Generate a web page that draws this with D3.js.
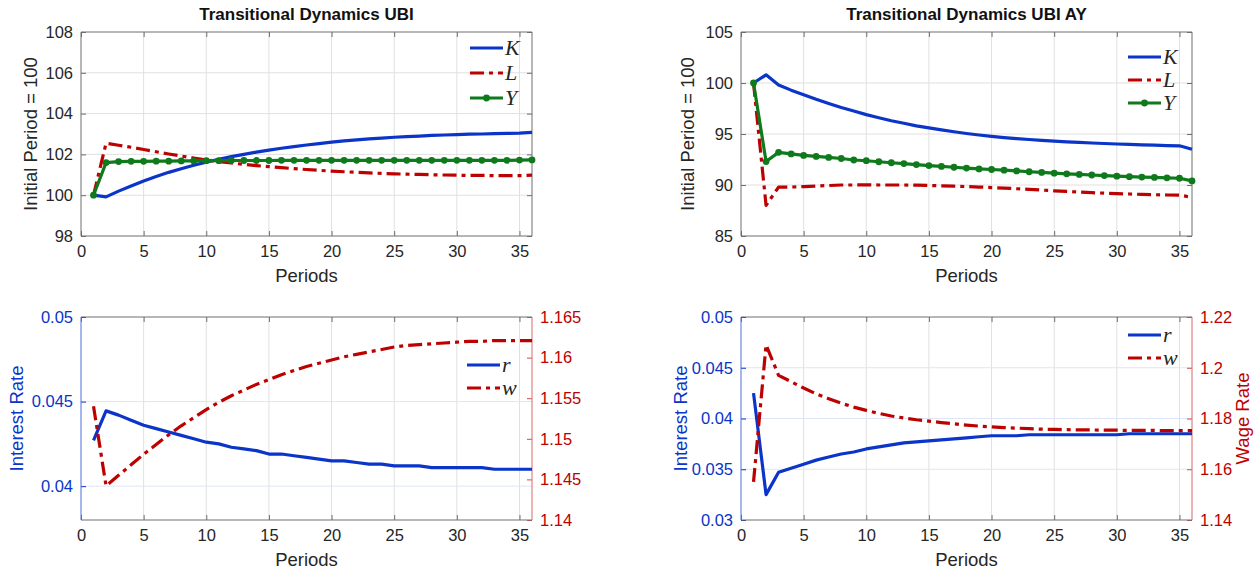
<!DOCTYPE html>
<html>
<head>
<meta charset="utf-8">
<script src="https://cdn.jsdelivr.net/npm/d3@7"></script>
<style>
  body { margin: 0; background: #fff; }
  svg { display: block; font-family: "Liberation Sans", Arial, Helvetica, sans-serif; }
</style>
</head>
<body>
<div id="chart"></div>
<script>
// periods on the x axis
const periods = [1,2,3,4,5,6,7,8,9,10,11,12,13,14,15,16,17,18,19,20,21,22,23,24,25,26,27,28,29,30,31,32,33,34,35,36];

// UBI: capital, labour, output (initial period = 100)
const ubiK = [100,99.92,100.2,100.45,100.7,100.92,101.12,101.3,101.47,101.62,101.76,101.89,102.0,102.11,102.21,102.3,102.38,102.46,102.53,102.6,102.66,102.71,102.76,102.8,102.84,102.87,102.9,102.93,102.95,102.97,102.99,103.0,103.02,103.03,103.04,103.08];
const ubiL = [100,102.55,102.45,102.35,102.24,102.13,102.02,101.92,101.82,101.73,101.65,101.58,101.51,101.45,101.4,101.35,101.3,101.26,101.22,101.18,101.15,101.12,101.09,101.07,101.05,101.03,101.02,101.0,100.99,100.98,100.97,100.97,100.96,100.96,100.96,100.98];
const ubiY = [100,101.6,101.65,101.66,101.66,101.67,101.67,101.68,101.68,101.69,101.69,101.7,101.7,101.7,101.7,101.71,101.71,101.71,101.71,101.71,101.71,101.71,101.71,101.71,101.71,101.71,101.71,101.71,101.71,101.71,101.71,101.71,101.71,101.71,101.72,101.73];

// UBI AY
const ayK = [100,100.8,99.8,99.3,98.85,98.4,98.0,97.6,97.25,96.9,96.6,96.3,96.05,95.8,95.6,95.4,95.22,95.05,94.9,94.77,94.65,94.55,94.46,94.38,94.3,94.23,94.17,94.12,94.07,94.02,93.98,93.94,93.9,93.87,93.84,93.5];
const ayL = [100,88.0,89.8,89.8,89.85,89.9,89.95,90.0,90.0,90.02,90.0,90.0,90.0,89.98,89.95,89.92,89.88,89.85,89.8,89.75,89.7,89.63,89.57,89.5,89.43,89.37,89.3,89.25,89.2,89.15,89.12,89.08,89.05,89.02,89.0,88.8];
const ayY = [100,92.3,93.2,93.05,92.9,92.8,92.7,92.6,92.45,92.38,92.28,92.18,92.1,92.0,91.9,91.82,91.74,91.66,91.58,91.52,91.45,91.38,91.3,91.23,91.16,91.1,91.04,90.98,90.92,90.87,90.82,90.78,90.74,90.7,90.66,90.4];

// prices: interest rate r and wage rate w
const ubiR = [0.0427,0.04445,0.0442,0.0439,0.0436,0.0434,0.0432,0.043,0.0428,0.0426,0.0425,0.0423,0.0422,0.0421,0.0419,0.0419,0.0418,0.0417,0.0416,0.0415,0.0415,0.0414,0.0413,0.0413,0.0412,0.0412,0.0412,0.0411,0.0411,0.0411,0.0411,0.0411,0.041,0.041,0.041,0.041];
const ubiW = [1.154,1.1442,1.1455,1.1468,1.1481,1.1493,1.1505,1.1516,1.1526,1.1536,1.1545,1.1553,1.156,1.1567,1.1573,1.1579,1.1584,1.1589,1.1593,1.1597,1.1601,1.1604,1.1607,1.161,1.1613,1.1615,1.1616,1.1617,1.1618,1.1619,1.162,1.162,1.1621,1.1621,1.1621,1.1621];
const ayR = [0.0425,0.0325,0.0347,0.0351,0.0355,0.0359,0.0362,0.0365,0.0367,0.037,0.0372,0.0374,0.0376,0.0377,0.0378,0.0379,0.038,0.0381,0.0382,0.0383,0.0383,0.0383,0.0384,0.0384,0.0384,0.0384,0.0384,0.0384,0.0384,0.0384,0.0385,0.0385,0.0385,0.0385,0.0385,0.0385];
const ayW = [1.155,1.209,1.197,1.1945,1.192,1.1897,1.1878,1.186,1.1845,1.1832,1.182,1.181,1.1802,1.1795,1.179,1.1784,1.1779,1.1774,1.177,1.1767,1.1764,1.1762,1.176,1.1758,1.1757,1.1756,1.1755,1.1755,1.1754,1.1754,1.1753,1.1753,1.1753,1.1752,1.1752,1.1752];

// tick values
const xTicks = [0,5,10,15,20,25,30,35];
const ubiTicks = [98,100,102,104,106,108];
const ayTicks = [85,90,95,100,105];
const ubiRTicks = [0.04,0.045,0.05];
const ubiWTicks = [1.14,1.145,1.15,1.155,1.16,1.165];
const ayRTicks = [0.03,0.035,0.04,0.045,0.05];
const ayWTicks = [1.14,1.16,1.18,1.2,1.22];

const BLUE = '#0a35c8', RED = '#bd0000', GREEN = '#0f7a1c';
const AXIS = '#6e6e6e', TEXT = '#262626';
const DASHDOT = '14,5,4,5';
const TICK_FONT = 16.5, LABEL_FONT = 18.5;

const svg = d3.select('#chart').append('svg')
  .attr('width', 1260)
  .attr('height', 573);

function drawPanel(p) {
  const {left, top, width, height} = p;
  const g = svg.append('g').attr('transform', `translate(${left},${top})`);

  const x = d3.scaleLinear().domain([0, 36]).range([0, width]);
  const y = d3.scaleLinear().domain(p.yDomain).range([height, 0]);
  const y2 = p.y2Domain ? d3.scaleLinear().domain(p.y2Domain).range([height, 0]) : null;

  // grid lines
  g.append('g').selectAll('line').data(xTicks.filter(d => d > 0))
    .join('line')
    .attr('x1', d => x(d)).attr('x2', d => x(d))
    .attr('y1', 0).attr('y2', height)
    .attr('stroke', '#e0e0e0').attr('stroke-width', 1);
  g.append('g').selectAll('line').data(p.yTicks.filter(d => d > p.yDomain[0] && d < p.yDomain[1]))
    .join('line')
    .attr('x1', 0).attr('x2', width)
    .attr('y1', d => y(d)).attr('y2', d => y(d))
    .attr('stroke', p.y2Domain ? '#dfe5f7' : '#e0e0e0').attr('stroke-width', 1);

  // axes
  const xAxis = d3.axisBottom(x).tickValues(xTicks).tickSize(-5).tickPadding(9).tickFormat(d3.format('d'));
  const gx = g.append('g').attr('transform', `translate(0,${height})`).call(xAxis);
  gx.select('.domain').remove();
  gx.selectAll('.tick line').attr('stroke', AXIS);
  gx.selectAll('.tick text').attr('fill', TEXT).attr('font-size', TICK_FONT);
  const gxTop = g.append('g').call(d3.axisTop(x).tickValues(xTicks).tickSize(-5).tickFormat(''));
  gxTop.select('.domain').remove();
  gxTop.selectAll('.tick line').attr('stroke', AXIS);

  const leftColor = p.y2Domain ? BLUE : TEXT;
  const gy = g.append('g').call(d3.axisLeft(y).tickValues(p.yTicks).tickSize(-5).tickPadding(8).tickFormat(p.yFormat));
  gy.select('.domain').remove();
  gy.selectAll('.tick line').attr('stroke', p.y2Domain ? BLUE : AXIS);
  gy.selectAll('.tick text').attr('fill', leftColor).attr('font-size', TICK_FONT);

  if (y2) {
    const gy2 = g.append('g').attr('transform', `translate(${width},0)`)
      .call(d3.axisRight(y2).tickValues(p.y2Ticks).tickSize(-5).tickPadding(8).tickFormat(p.y2Format));
    gy2.select('.domain').remove();
    gy2.selectAll('.tick line').attr('stroke', '#d04a4a');
    gy2.selectAll('.tick text').attr('fill', RED).attr('font-size', TICK_FONT);
  } else {
    const gyR = g.append('g').attr('transform', `translate(${width},0)`)
      .call(d3.axisRight(y).tickValues(p.yTicks).tickSize(-5).tickFormat(''));
    gyR.select('.domain').remove();
    gyR.selectAll('.tick line').attr('stroke', AXIS);
  }

  // box
  g.append('line').attr('x1', 0).attr('x2', width).attr('y1', 0).attr('y2', 0).attr('stroke', AXIS);
  g.append('line').attr('x1', 0).attr('x2', width).attr('y1', height).attr('y2', height).attr('stroke', AXIS);
  g.append('line').attr('x1', 0).attr('x2', 0).attr('y1', 0).attr('y2', height)
    .attr('stroke', p.y2Domain ? '#4a6fd8' : AXIS);
  g.append('line').attr('x1', width).attr('x2', width).attr('y1', 0).attr('y2', height)
    .attr('stroke', p.y2Domain ? '#d86a6a' : AXIS);

  // series
  const plot = g.append('g');
  p.series.forEach(s => {
    const sc = s.axis === 2 ? y2 : y;
    const line = d3.line().x((d, i) => x(periods[i])).y(d => sc(d));
    plot.append('path')
      .datum(s.values)
      .attr('d', line)
      .attr('fill', 'none')
      .attr('stroke', s.color)
      .attr('stroke-width', 3.2)
      .attr('stroke-linejoin', 'round')
      .attr('stroke-dasharray', s.dash || null);
    if (s.marker) {
      plot.append('g').selectAll('circle').data(s.values)
        .join('circle')
        .attr('cx', (d, i) => x(periods[i]))
        .attr('cy', d => sc(d))
        .attr('r', 3.4)
        .attr('fill', s.color);
    }
  });

  // legend
  const lg = g.append('g').attr('transform', `translate(${p.legend[0]},${p.legend[1]})`);
  p.series.forEach((s, i) => {
    const ly = i * p.legendStep;
    lg.append('line').attr('x1', 0).attr('x2', 33).attr('y1', ly).attr('y2', ly)
      .attr('stroke', s.color).attr('stroke-width', 3.2).attr('stroke-dasharray', s.dash || null);
    if (s.marker) {
      lg.append('circle').attr('cx', 16.5).attr('cy', ly).attr('r', 3.4).attr('fill', s.color);
    }
    lg.append('text').attr('x', 35).attr('y', ly + 7)
      .attr('font-family', '"Liberation Serif", "DejaVu Serif", serif')
      .attr('font-style', 'italic')
      .attr('font-size', 22)
      .attr('fill', TEXT)
      .text(s.name);
  });

  // labels
  if (p.title) {
    svg.append('text').attr('x', left + width / 2).attr('y', top - 12)
      .attr('text-anchor', 'middle').attr('font-weight', 'bold').attr('font-size', 17)
      .attr('fill', '#111').text(p.title);
  }
  svg.append('text').attr('x', left + width / 2).attr('y', top + height + 46)
    .attr('text-anchor', 'middle').attr('font-size', LABEL_FONT).attr('fill', TEXT).text('Periods');
  svg.append('text')
    .attr('transform', `translate(${left + p.yLabelDx},${top + height / 2}) rotate(-90)`)
    .attr('text-anchor', 'middle').attr('font-size', LABEL_FONT).attr('fill', leftColor).text(p.yLabel);
  if (p.y2Label) {
    svg.append('text')
      .attr('transform', `translate(${left + width + p.y2LabelDx},${top + height / 2}) rotate(-90)`)
      .attr('text-anchor', 'middle').attr('font-size', LABEL_FONT).attr('fill', RED).text(p.y2Label);
  }
}

drawPanel({
  left: 81, top: 32, width: 451, height: 204,
  title: 'Transitional Dynamics UBI',
  yDomain: [98, 108], yTicks: ubiTicks, yFormat: d3.format('d'),
  yLabel: 'Initial Period = 100', yLabelDx: -44,
  legend: [389, 16], legendStep: 25,
  series: [
    {name: 'K', values: ubiK, color: BLUE},
    {name: 'L', values: ubiL, color: RED, dash: DASHDOT},
    {name: 'Y', values: ubiY, color: GREEN, marker: true}
  ]
});

drawPanel({
  left: 741, top: 32, width: 451, height: 204,
  title: 'Transitional Dynamics UBI AY',
  yDomain: [85, 105], yTicks: ayTicks, yFormat: d3.format('d'),
  yLabel: 'Initial Period = 100', yLabelDx: -47,
  legend: [387, 25], legendStep: 23,
  series: [
    {name: 'K', values: ayK, color: BLUE},
    {name: 'L', values: ayL, color: RED, dash: DASHDOT},
    {name: 'Y', values: ayY, color: GREEN, marker: true}
  ]
});

drawPanel({
  left: 81, top: 317, width: 451, height: 203,
  yDomain: [0.038, 0.05], yTicks: ubiRTicks, yFormat: d => d3.format('')(+d.toFixed(3)),
  y2Domain: [1.14, 1.165], y2Ticks: ubiWTicks, y2Format: d => d3.format('')(+d.toFixed(3)),
  yLabel: 'Interest Rate', yLabelDx: -58,
  legend: [386, 48], legendStep: 23,
  series: [
    {name: 'r', values: ubiR, color: BLUE},
    {name: 'w', values: ubiW, color: RED, dash: DASHDOT, axis: 2}
  ]
});

drawPanel({
  left: 741, top: 317, width: 451, height: 203,
  yDomain: [0.03, 0.05], yTicks: ayRTicks, yFormat: d => d3.format('')(+d.toFixed(3)),
  y2Domain: [1.14, 1.22], y2Ticks: ayWTicks, y2Format: d => d3.format('')(+d.toFixed(2)),
  yLabel: 'Interest Rate', yLabelDx: -54,
  y2Label: 'Wage Rate', y2LabelDx: 57,
  legend: [387, 18], legendStep: 23,
  series: [
    {name: 'r', values: ayR, color: BLUE},
    {name: 'w', values: ayW, color: RED, dash: DASHDOT, axis: 2}
  ]
});
</script>
</body>
</html>
